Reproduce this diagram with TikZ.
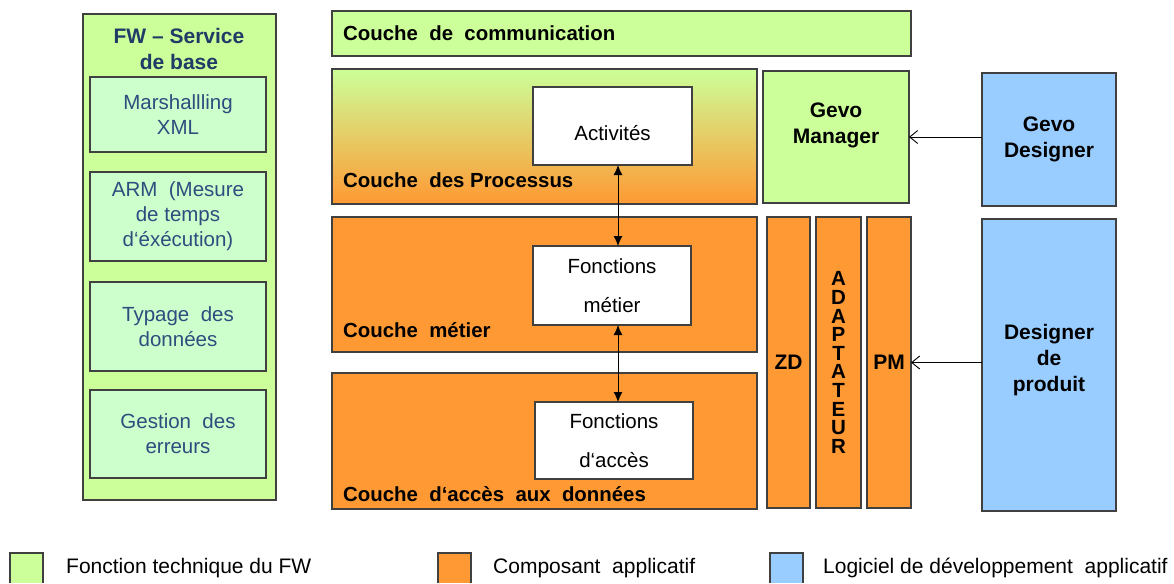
\documentclass[tikz,border=0pt]{standalone}
\usepackage{fontspec}
\setmainfont{Liberation Sans}
\usetikzlibrary{arrows.meta}
\definecolor{fwgreen}{HTML}{CCFF99}
\definecolor{lightgreen}{HTML}{CCFFCC}
\definecolor{apporange}{HTML}{FF9933}
\definecolor{devblue}{HTML}{99CCFF}
\definecolor{bordercol}{HTML}{404040}
\definecolor{fwtitle}{HTML}{1F3B66}
\definecolor{fwtext}{HTML}{2E4C7E}
\tikzset{
  box/.style={draw=bordercol, line width=1.2pt, inner sep=0pt, outer sep=0pt, anchor=north west},
  innerbox/.style={box, fill=lightgreen, minimum width=176pt, text=fwtext, align=center,
     font=\fontsize{20.5}{25}\selectfont},
  layerlbl/.style={anchor=west, inner sep=0pt, font=\fontsize{20.4}{24}\selectfont\bfseries},
  whitebox/.style={box, fill=white, align=center, font=\fontsize{20.5}{39}\selectfont},
  boldtxt/.style={align=center, font=\fontsize{21}{26}\selectfont\bfseries},
  dbl/.style={{Latex[length=10pt,width=9pt]}-{Latex[length=10pt,width=9pt]}, line width=0.9pt},
  openarr/.style={-{Straight Barb[length=8pt,width=13pt]}, line width=0.9pt},
  legtxt/.style={anchor=west, inner sep=0pt, font=\fontsize{21}{24}\selectfont},
  legsq/.style={inner sep=0pt, outer sep=0pt, anchor=north west, minimum width=33pt, minimum height=30pt}
}
\begin{document}
\begin{tikzpicture}[x=1pt,y=-1pt]
\useasboundingbox (0,0) rectangle (1174,583);
% left column
\node[box, fill=fwgreen, minimum width=193pt, minimum height=486pt] (fw) at (83,14) {};
\node[boldtxt, text=fwtitle] (fwt) at (179,48.5) {FW – Service\\de base};
\node[innerbox, minimum height=75pt] (m1) at (90,77) {Marshallling\\XML};
\node[innerbox, minimum height=89pt] (m2) at (90,172) {ARM\ \ (Mesure\\de temps\\d‘éxécution)};
\node[innerbox, minimum height=89pt] (m3) at (90,282) {Typage\ \ des\\données};
\node[innerbox, minimum height=88pt] (m4) at (90,390) {Gestion\ \ des\\erreurs};
% layers
\node[box, fill=fwgreen, minimum width=579pt, minimum height=45pt] (comm) at (332,11) {};
\node[layerlbl] (comml) at (343,33.5) {Couche\ \ de\ \ communication};
\node[box, top color=fwgreen, bottom color=apporange, minimum width=425pt, minimum height=135pt] (proc) at (332,69) {};
\node[layerlbl] (procl) at (343,180) {Couche\ \ des\ Processus};
\node[box, fill=apporange, minimum width=425pt, minimum height=135pt] (met) at (332,217) {};
\node[layerlbl] (metl) at (343,330) {Couche\ \ métier};
\node[box, fill=apporange, minimum width=425pt, minimum height=136pt] (acc) at (332,373) {};
\node[layerlbl] (accl) at (343,494) {Couche\ \ d‘accès\ \ aux\ \ données};
% inner white boxes
\node[whitebox, minimum width=159pt, minimum height=78pt,
  label={[font=\fontsize{20.5}{24}\selectfont, yshift=-7pt]center:Activités}] (act) at (533,87) {};
\node[whitebox, minimum width=158pt, minimum height=79pt] (fm) at (533,246) {Fonctions\\métier};
\node[whitebox, minimum width=158pt, minimum height=77pt] (fa) at (535,402) {Fonctions\\d‘accès};
\coordinate (ax) at (618,0);
\draw[dbl] (act.south -| ax) -- (fm.north -| ax);
\draw[dbl] (fm.south -| ax) -- (fa.north -| ax);
% right part
\node[box, fill=fwgreen, minimum width=146pt, minimum height=132pt,
  label={[boldtxt, yshift=12pt]center:Gevo\\Manager}] (gm) at (763,71) {};
\node[box, fill=devblue, minimum width=134pt, minimum height=133pt, boldtxt] (gd) at (982,73) {Gevo\\Designer};
\node[box, fill=apporange, minimum width=43pt, minimum height=291pt, boldtxt] (zd) at (767,217) {ZD};
\node[box, fill=apporange, minimum width=45pt, minimum height=291pt, align=center, font=\fontsize{20.5}{18.6}\selectfont\bfseries] (ad) at (816,217) {A\\D\\A\\P\\T\\A\\T\\E\\U\\R};
\node[box, fill=apporange, minimum width=44pt, minimum height=291pt, boldtxt] (pm) at (867,217) {PM};
\node[box, fill=devblue, minimum width=134pt, minimum height=292pt,
  label={[boldtxt, yshift=5pt]center:Designer\\de\\produit}] (dp) at (982,219) {};
\draw[openarr] (gd.west |- gm.east) -- (gm.east);
\draw[openarr] (dp.west |- pm.east) -- (pm.east);
% legend
\node[legsq, fill=fwgreen] (leg1) at (10,553) {};
\draw[bordercol, line width=1.2pt] (leg1.south west) |- (leg1.north east) -- (leg1.south east);
\node[legtxt] (leg1t) at (66,568) {Fonction technique du FW};
\node[legsq, fill=apporange] (leg2) at (438,553) {};
\draw[bordercol, line width=1.2pt] (leg2.south west) |- (leg2.north east) -- (leg2.south east);
\node[legtxt] (leg2t) at (493,568) {Composant\ \ applicatif};
\node[legsq, fill=devblue] (leg3) at (770,553) {};
\draw[bordercol, line width=1.2pt] (leg3.south west) |- (leg3.north east) -- (leg3.south east);
\node[legtxt] (leg3t) at (823,568) {Logiciel de développement\ \ applicatif};
\end{tikzpicture}
\end{document}
